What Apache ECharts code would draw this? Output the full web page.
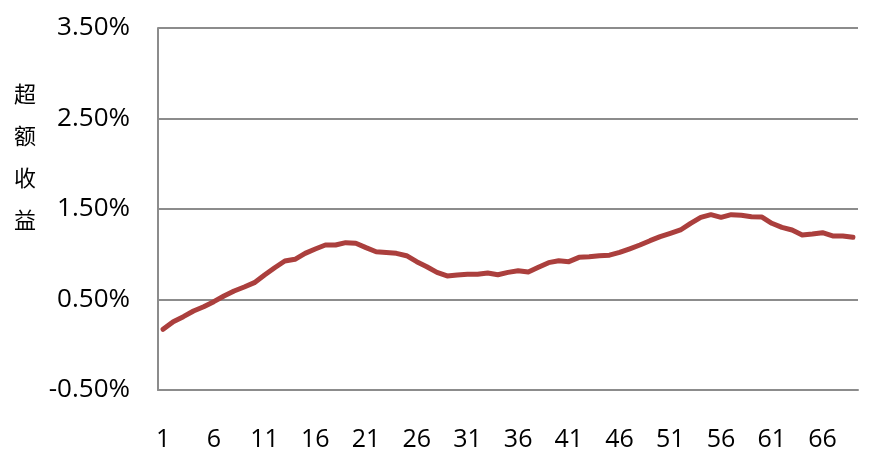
<!DOCTYPE html>
<html>
<head>
<meta charset="utf-8">
<script src="https://cdn.jsdelivr.net/npm/echarts@6/dist/echarts.min.js"></script>
<style>html,body{margin:0;padding:0;background:#fff;}#c{width:873px;height:465px;}</style>
</head>
<body>
<div id="c"></div>
<script>
// categories 1..69
const categories = [];
for (let i = 1; i <= 69; i++) categories.push(String(i));
// excess return, in percent
const excessReturn = [
  0.17, 0.255, 0.31, 0.373, 0.42, 0.476, 0.539, 0.594, 0.638, 0.686,
  0.771, 0.851, 0.925, 0.944, 1.01, 1.058, 1.102, 1.102, 1.128, 1.121,
  1.073, 1.028, 1.02, 1.01, 0.984, 0.918, 0.862, 0.80, 0.76, 0.771,
  0.778, 0.778, 0.793, 0.774, 0.80, 0.818, 0.804, 0.856, 0.907, 0.929,
  0.918, 0.966, 0.973, 0.984, 0.99, 1.02, 1.06, 1.102, 1.15, 1.194,
  1.231, 1.268, 1.342, 1.408, 1.437, 1.408, 1.437, 1.43, 1.415, 1.412,
  1.342, 1.297, 1.268, 1.213, 1.224, 1.238, 1.202, 1.202, 1.187
];
const yTicks = [-0.5, 0.5, 1.5, 2.5, 3.5];
const yAxisTitle = '超\n额\n收\n益';

const chart = echarts.init(document.getElementById('c'));
chart.setOption({
  animation: false,
  backgroundColor: '#fff',
  grid: { left: 158, right: 15, top: 28, bottom: 75, containLabel: false },
  graphic: [{
    type: 'text', left: 14, top: 73,
    style: { text: yAxisTitle, fontSize: 22, lineHeight: 42, fill: '#000',
      fontFamily: 'Noto Sans CJK SC', align: 'left' }
  }],
  xAxis: {
    type: 'category', data: categories, boundaryGap: true,
    axisLine: { show: true, onZero: false, lineStyle: { color: '#8c8c8c', width: 2 } },
    axisTick: { show: false },
    axisLabel: { interval: 4, color: '#000', fontSize: 25, margin: 37,
      fontFamily: 'Open Sans' },
    splitLine: { show: false }
  },
  yAxis: {
    type: 'value', min: -0.5, max: 3.5,
    axisLine: { show: true, lineStyle: { color: '#8c8c8c', width: 2 } },
    axisTick: { show: false, customValues: yTicks },
    axisLabel: { customValues: yTicks, color: '#000', fontSize: 26, margin: 28,
      fontFamily: 'Open Sans', formatter: v => v.toFixed(2) + '%' },
    splitLine: { show: false }
  },
  series: [{
    type: 'line', data: excessReturn, symbol: 'none', smooth: false, z: 3,
    lineStyle: { color: '#ab3f3d', width: 5, cap: 'round', join: 'round' },
    markLine: {
      z: 1, silent: true, symbol: 'none', animation: false,
      label: { show: false },
      lineStyle: { color: '#8c8c8c', width: 2, type: 'solid' },
      emphasis: { disabled: true },
      data: yTicks.map(v => ({ yAxis: v }))
    }
  }]
});
</script>
</body>
</html>
